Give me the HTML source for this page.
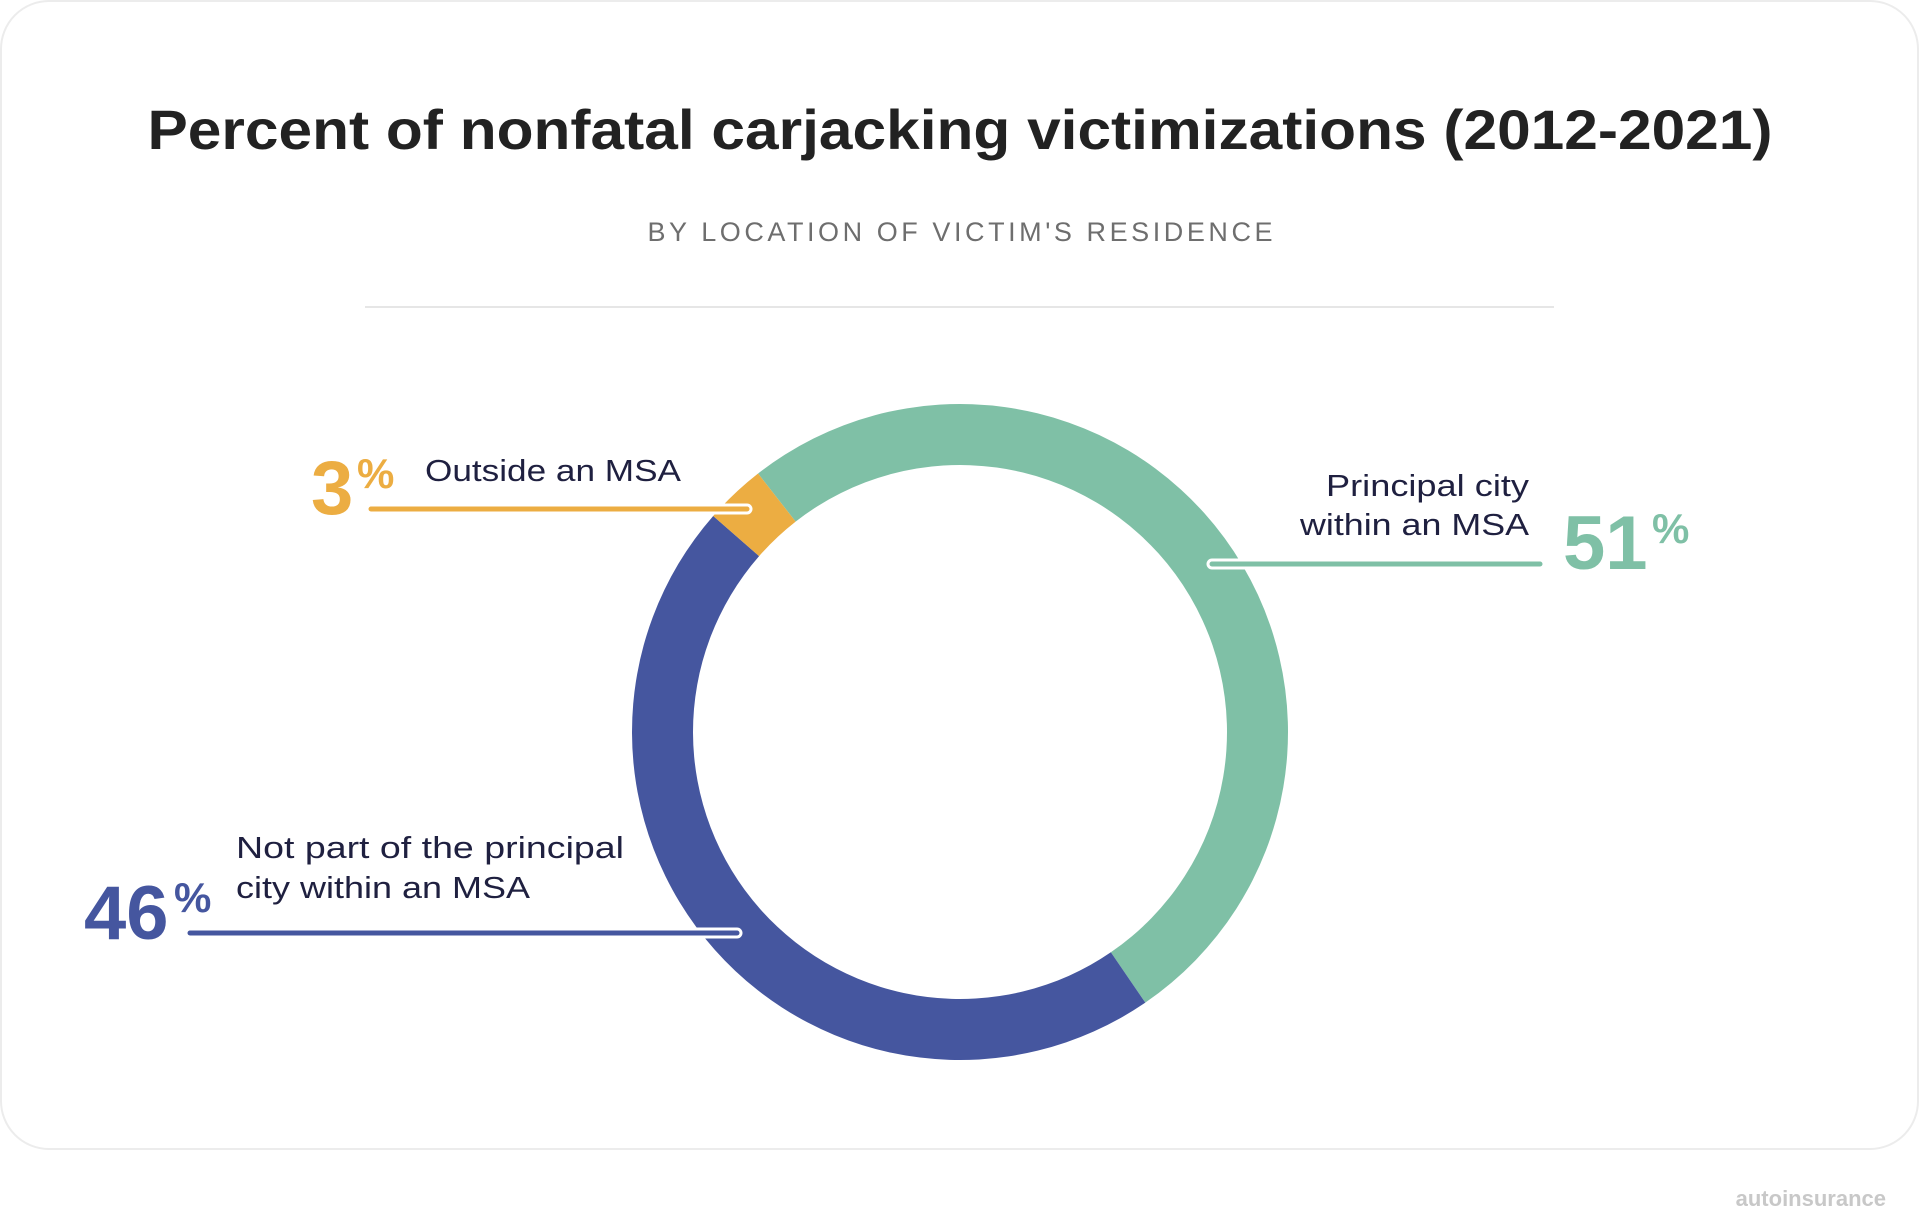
<!DOCTYPE html>
<html><head><meta charset="utf-8"><style>
html,body{margin:0;padding:0;background:#fff;}
svg{display:block;font-family:"Liberation Sans",sans-serif;}
</style></head><body>
<svg width="1920" height="1207" viewBox="0 0 1920 1207">
<rect x="1" y="1" width="1917" height="1148" rx="48" fill="#fff" stroke="#ececec" stroke-width="2"/>
<text x="960" y="149" text-anchor="middle" font-size="56" font-weight="bold" fill="#222" textLength="1625" lengthAdjust="spacingAndGlyphs">Percent of nonfatal carjacking victimizations (2012-2021)</text>
<text x="960" y="241" text-anchor="middle" font-size="27" fill="#6e6e6e" textLength="625" lengthAdjust="spacing">BY LOCATION OF VICTIM'S RESIDENCE</text>
<line x1="365" y1="307" x2="1554" y2="307" stroke="#e6e6e6" stroke-width="2"/>
<g id="donut"></g>
<g id="labels">
<line x1="1212" y1="564" x2="1540" y2="564" stroke="#fff" stroke-width="11" stroke-linecap="round"/>
<line x1="1212" y1="564" x2="1540" y2="564" stroke="#7fc0a6" stroke-width="5" stroke-linecap="round"/>
<line x1="371" y1="509" x2="747" y2="509" stroke="#fff" stroke-width="11" stroke-linecap="round"/>
<line x1="371" y1="509" x2="747" y2="509" stroke="#ecad42" stroke-width="5" stroke-linecap="round"/>
<line x1="190" y1="933" x2="737" y2="933" stroke="#fff" stroke-width="11" stroke-linecap="round"/>
<line x1="190" y1="933" x2="737" y2="933" stroke="#45569f" stroke-width="5" stroke-linecap="round"/>

<text x="1563" y="569" font-size="76" font-weight="bold" fill="#7fc0a6">51</text>
<text x="1652" y="543" font-size="42" font-weight="bold" fill="#7fc0a6">%</text>
<text x="1529" y="496" text-anchor="end" font-size="31" fill="#1f2040" textLength="203" lengthAdjust="spacingAndGlyphs">Principal city</text>
<text x="1529" y="535" text-anchor="end" font-size="31" fill="#1f2040" textLength="229" lengthAdjust="spacingAndGlyphs">within an MSA</text>

<text x="311" y="514" font-size="76" font-weight="bold" fill="#ecad42">3</text>
<text x="357" y="488" font-size="42" font-weight="bold" fill="#ecad42">%</text>
<text x="425" y="481" font-size="31" fill="#1f2040" textLength="256" lengthAdjust="spacingAndGlyphs">Outside an MSA</text>

<text x="84" y="939" font-size="76" font-weight="bold" fill="#45569f">46</text>
<text x="174" y="912" font-size="42" font-weight="bold" fill="#45569f">%</text>
<text x="236" y="858" font-size="31" fill="#1f2040" textLength="388" lengthAdjust="spacingAndGlyphs">Not part of the principal</text>
<text x="236" y="898" font-size="31" fill="#1f2040" textLength="294" lengthAdjust="spacingAndGlyphs">city within an MSA</text>
</g>
<text x="1886" y="1206" text-anchor="end" font-size="22" font-weight="bold" fill="#c8c8c8">autoinsurance</text>
</svg>
<script>
const categories = ["Principal city within an MSA", "Not part of the principal city within an MSA", "Outside an MSA"];
const values = [51, 46, 3];
const colors = ["#7fc0a6", "#45569f", "#ecad42"];
const cx = 960, cy = 732, rOut = 328, rIn = 267, startDeg = -38;
const g = document.getElementById('donut');
const total = values.reduce((a,b)=>a+b,0);
function pt(r, deg){ const a=(deg-90)*Math.PI/180; return [cx+r*Math.cos(a), cy+r*Math.sin(a)]; }
let acc = startDeg;
values.forEach((v,i)=>{
  const sweep = v/total*360, a0=acc, a1=acc+sweep; acc=a1;
  const large = sweep>180?1:0;
  const p1=pt(rOut,a0), p2=pt(rOut,a1), p3=pt(rIn,a1), p4=pt(rIn,a0);
  const path=document.createElementNS('http://www.w3.org/2000/svg','path');
  path.setAttribute('d',`M${p1[0]},${p1[1]} A${rOut},${rOut} 0 ${large} 1 ${p2[0]},${p2[1]} L${p3[0]},${p3[1]} A${rIn},${rIn} 0 ${large} 0 ${p4[0]},${p4[1]} Z`);
  path.setAttribute('fill',colors[i]);
  
  
  g.appendChild(path);
});
</script>
</body></html>
